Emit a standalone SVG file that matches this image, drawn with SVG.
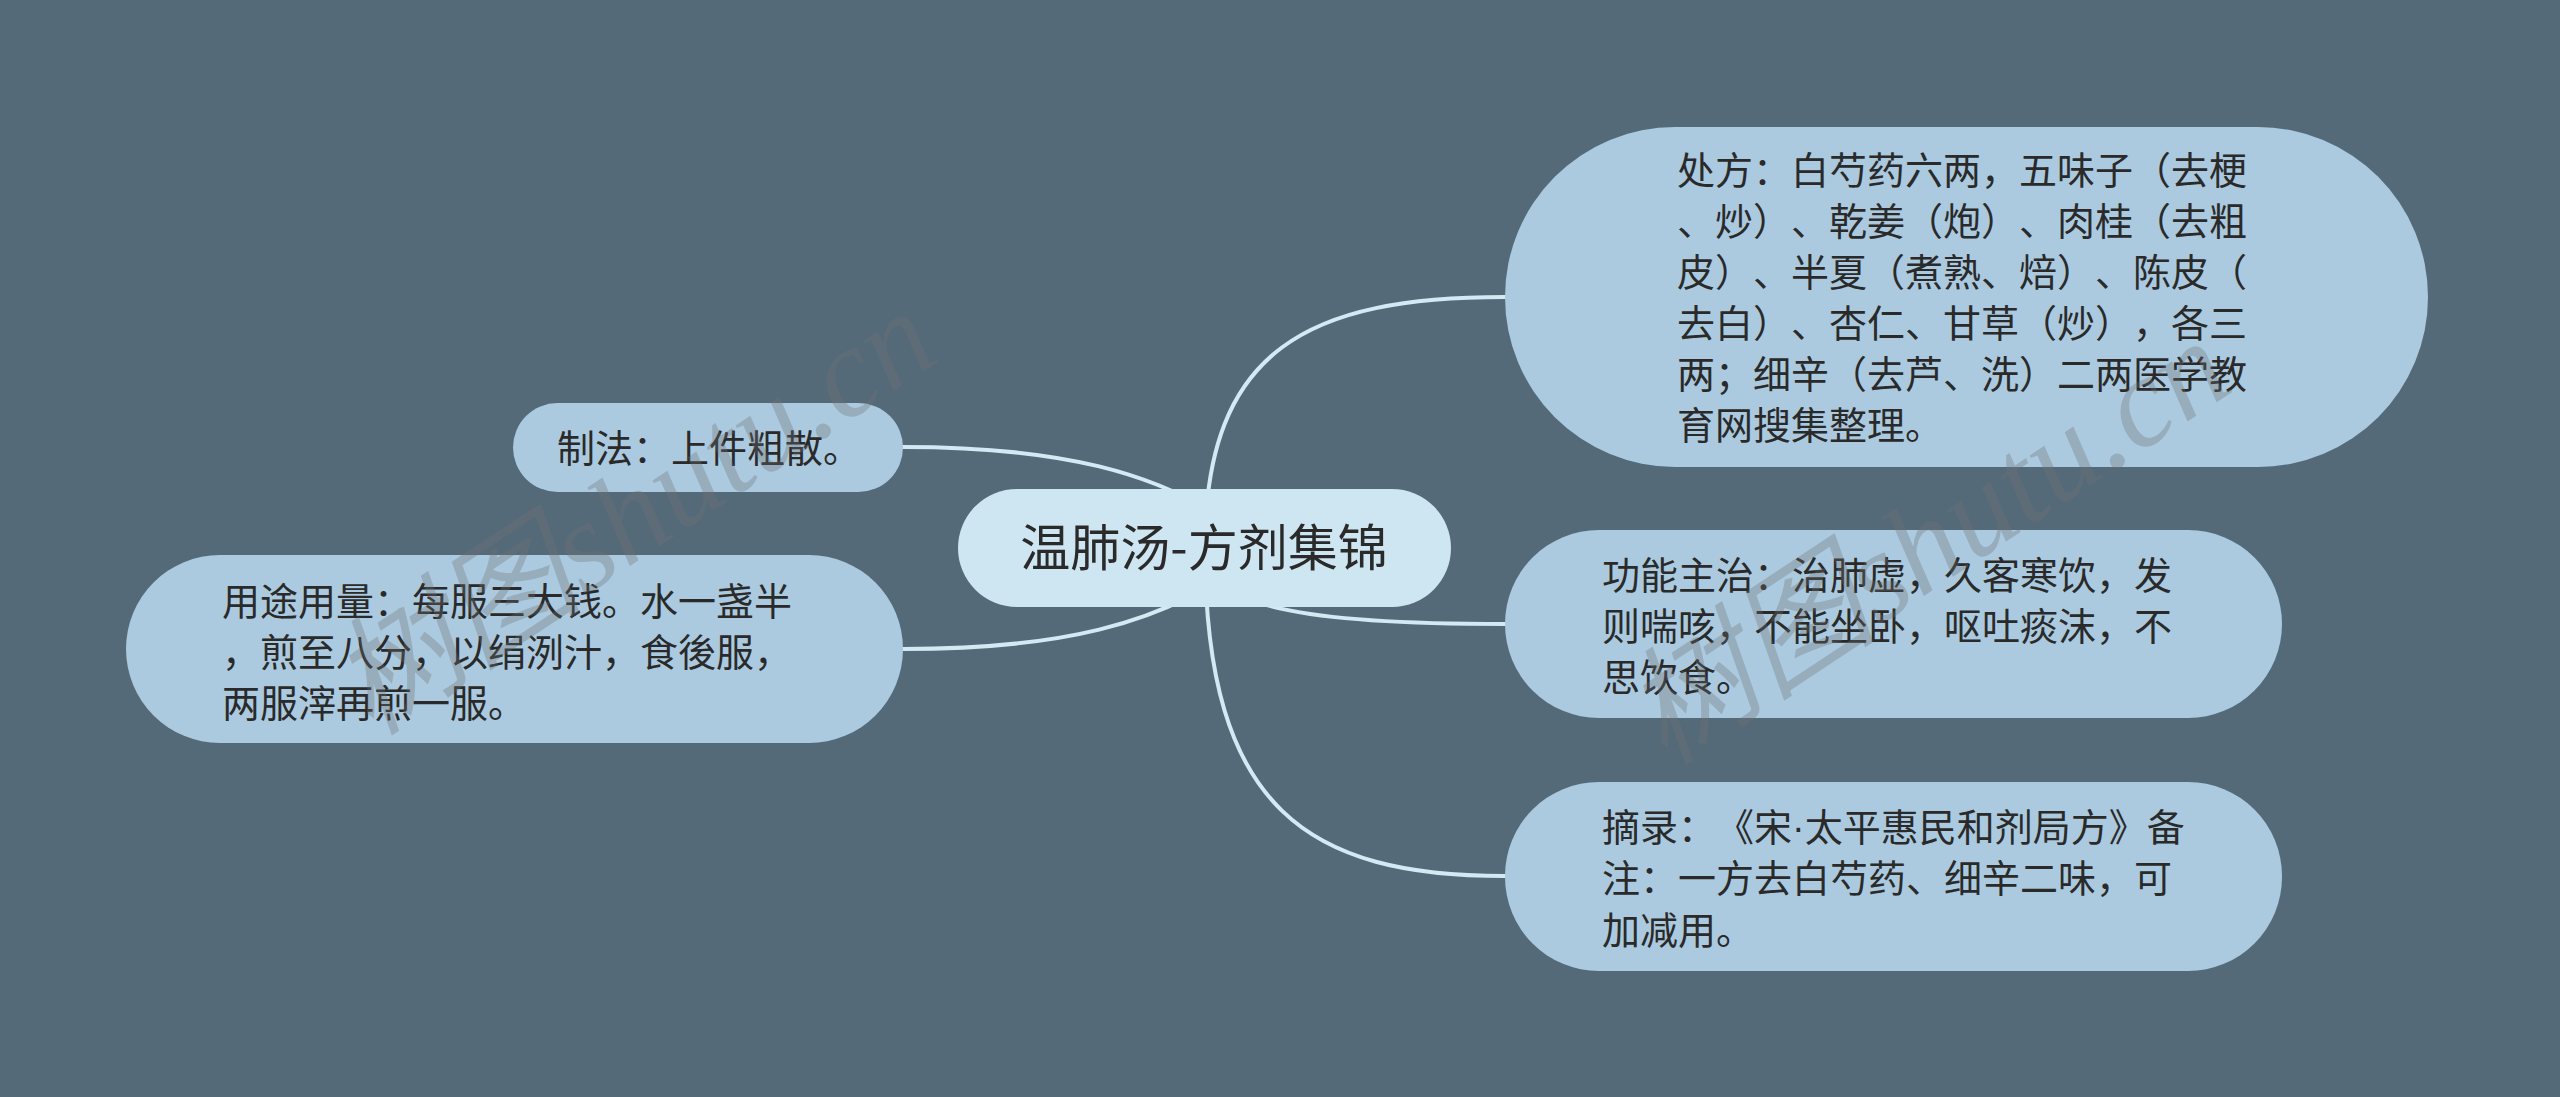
<svg xmlns="http://www.w3.org/2000/svg" width="2560" height="1097" viewBox="0 0 2560 1097">
<style>
.bg{fill:#546a79}
.node{fill:#abcae0}
.root{fill:#cee5f2}
.t{font-family:"Noto Sans CJK SC","Noto Sans",sans-serif;font-size:38px;fill:#2a2a2a;text-spacing-trim:space-all;font-kerning:none}
.rt{font-family:"Noto Sans CJK SC","Noto Sans",sans-serif;font-size:50px;fill:#2a2a2a;text-anchor:middle}
.dot{font-family:"Liberation Sans",sans-serif}
.link{fill:none;stroke:#d3e9f4;stroke-width:4;stroke-linecap:round}
.wm{font-family:"Liberation Serif","Noto Sans CJK SC",serif;font-size:128px;font-style:italic;fill:#707070;fill-opacity:0.32;text-anchor:middle}
</style>
<rect class="bg" x="0" y="0" width="2560" height="1097"/>
<g id="connectors">
<path class="link" d="M1205,548 C1205,348 1310,297 1505,297"/>
<path class="link" d="M1205,548 C1205,609 1310,624 1505,624"/>
<path class="link" d="M1205,548 C1205,811 1310,876 1505,876"/>
<path class="link" d="M903,447 C1040,447 1170,465 1260,548"/>
<path class="link" d="M903,649 C1040,649 1170,631 1260,548"/>
</g>
<g id="root">
<rect class="root" x="958" y="489" width="493" height="118" rx="59"/>
<text class="rt" x="1204" y="566">温肺汤-方剂集锦</text>
</g>
<g id="node-chufang">
<rect class="node" x="1505" y="127" width="923" height="340" rx="170"/>
<text class="t" x="1677" y="184">处方：白芍药六两，五味子（去梗</text>
<text class="t" x="1677" y="235">、炒）、乾姜（炮）、肉桂（去粗</text>
<text class="t" x="1677" y="286">皮）、半夏（煮熟、焙）、陈皮（</text>
<text class="t" x="1677" y="337">去白）、杏仁、甘草（炒），各三</text>
<text class="t" x="1677" y="388">两；细辛（去芦、洗）二两医学教</text>
<text class="t" x="1677" y="439">育网搜集整理。</text>
</g>
<g id="node-gongneng">
<rect class="node" x="1505" y="530" width="777" height="188" rx="94"/>
<text class="t" x="1602" y="589">功能主治：治肺虚，久客寒饮，发</text>
<text class="t" x="1602" y="640">则喘咳，不能坐卧，呕吐痰沫，不</text>
<text class="t" x="1602" y="691">思饮食。</text>
</g>
<g id="node-zhailu">
<rect class="node" x="1505" y="782" width="777" height="189" rx="94"/>
<text class="t" x="1602" y="841">摘录：《宋<tspan class="dot">·</tspan>太平惠民和剂局方》备</text>
<text class="t" x="1602" y="892">注：一方去白芍药、细辛二味，可</text>
<text class="t" x="1602" y="944">加减用。</text>
</g>
<g id="node-zhifa">
<rect class="node" x="513" y="403" width="390" height="89" rx="44.5"/>
<text class="t" x="557" y="462">制法：上件粗散。</text>
</g>
<g id="node-yongtu">
<rect class="node" x="126" y="555" width="777" height="188" rx="94"/>
<text class="t" x="222" y="615">用途用量：每服三大钱。水一盏半</text>
<text class="t" x="222" y="666">，煎至八分，以绢洌汁，食後服，</text>
<text class="t" x="222" y="717">两服滓再煎一服。</text>
</g>
<g id="watermarks">
<text class="wm" transform="translate(657,548) rotate(-33.5)" x="0" y="0">树图shutu.cn</text>
<text class="wm" transform="translate(1951,578) rotate(-33.5)" x="0" y="0">树图shutu.cn</text>
</g>
</svg>
